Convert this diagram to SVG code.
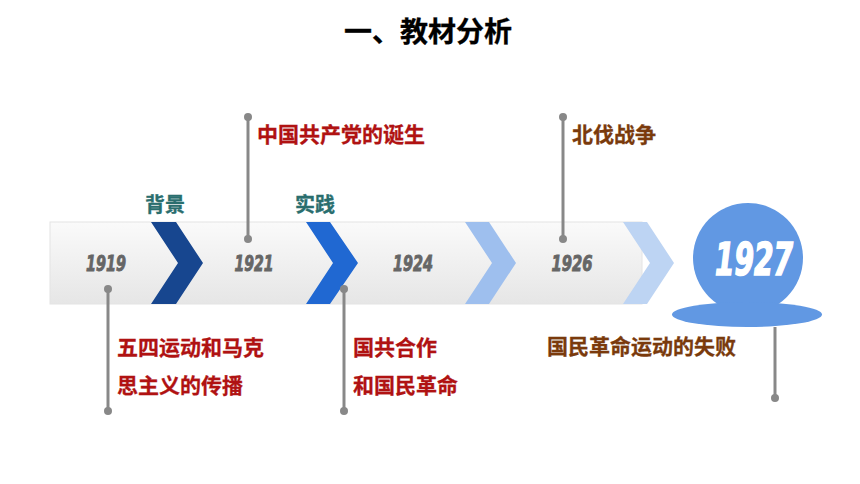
<svg xmlns="http://www.w3.org/2000/svg" width="860" height="484" viewBox="0 0 860 484">
<defs>
<linearGradient id="band" x1="0" y1="0" x2="0" y2="1">
<stop offset="0" stop-color="#FAFAFA"/>
<stop offset="1" stop-color="#E6E6E6"/>
</linearGradient>
<style>
.title{font-family:"Noto Sans CJK SC",sans-serif;font-weight:bold;font-size:28px;fill:#000;stroke:#000;stroke-width:0.3}
.yr{font-family:"DejaVu Sans Condensed","DejaVu Sans",sans-serif;font-weight:bold;font-style:italic;font-size:22px;fill:#666;stroke:#666;stroke-width:0.9;text-anchor:middle}
.stage{font-family:"Noto Sans CJK SC",sans-serif;font-weight:bold;font-size:20px;fill:#2A6E6E;stroke:#2A6E6E;stroke-width:0.3;text-anchor:middle}
.red{font-family:"Noto Sans CJK SC",sans-serif;font-weight:bold;font-size:21px;fill:#B01212;stroke:#B01212;stroke-width:0.3}
.brown{font-family:"Noto Sans CJK SC",sans-serif;font-weight:bold;font-size:21px;fill:#7A3A0C;stroke:#7A3A0C;stroke-width:0.3}
.ln{stroke:#888;stroke-width:3;fill:none}
.dot{fill:#888}
</style>
</defs>
<rect width="860" height="484" fill="#fff"/>
<text class="title" x="428" y="42" text-anchor="middle">一、教材分析</text>
<g id="band-node">
<rect x="50" y="222" width="592" height="82" fill="url(#band)" stroke="#E4E4E4" stroke-width="1"/>
</g>
<g id="chevrons">
<polygon points="151,222 176,222 203,263 176,304 151,304 178,263" fill="#17468F"/>
<polygon points="306,222 330,222 358,263 330,304 306,304 333,263" fill="#2068D2"/>
<polygon points="465,222 489,222 516,263 489,304 465,304 492,263" fill="#9EBFEE"/>
<polygon points="623,222 647,222 674,263 647,304 623,304 650,263" fill="#BDD4F3"/>
</g>
<g id="years">
<text class="yr" x="106" y="271" textLength="40" lengthAdjust="spacingAndGlyphs">1919</text>
<text class="yr" x="254" y="271" textLength="39" lengthAdjust="spacingAndGlyphs">1921</text>
<text class="yr" x="413" y="271" textLength="40" lengthAdjust="spacingAndGlyphs">1924</text>
<text class="yr" x="572" y="271" textLength="41" lengthAdjust="spacingAndGlyphs">1926</text>
</g>
<g id="node-1927">
<circle cx="748" cy="258" r="55" fill="#6198E3"/>
<ellipse cx="747" cy="314.5" rx="75" ry="12.5" fill="#6198E3"/>
<text x="754" y="275" text-anchor="middle" font-family="DejaVu Sans Condensed,DejaVu Sans,sans-serif" font-weight="bold" font-style="italic" font-size="44" fill="#fff" stroke="#fff" stroke-width="1.6" textLength="78" lengthAdjust="spacingAndGlyphs">1927</text>
</g>
<g id="stages">
<text class="stage" x="165" y="212">背景</text>
<text class="stage" x="315" y="212">实践</text>
</g>
<g id="connectors">
<line class="ln" x1="108" y1="289" x2="108" y2="411"/>
<circle class="dot" cx="108" cy="289" r="4"/><circle class="dot" cx="108" cy="411" r="4"/>
<line class="ln" x1="248" y1="117" x2="248" y2="239"/>
<circle class="dot" cx="248" cy="117" r="4"/><circle class="dot" cx="248" cy="239" r="4"/>
<line class="ln" x1="344" y1="289" x2="344" y2="411"/>
<circle class="dot" cx="344" cy="289" r="4"/><circle class="dot" cx="344" cy="411" r="4"/>
<line class="ln" x1="563" y1="117" x2="563" y2="239"/>
<circle class="dot" cx="563" cy="117" r="4"/><circle class="dot" cx="563" cy="239" r="4"/>
<line class="ln" x1="775" y1="327" x2="775" y2="398"/>
<circle class="dot" cx="775" cy="398" r="4"/>
</g>
<g id="labels">
<text class="red" x="257" y="142">中国共产党的诞生</text>
<text class="red" x="117" y="355">五四运动和马克</text>
<text class="red" x="117" y="393">思主义的传播</text>
<text class="red" x="353" y="355">国共合作</text>
<text class="red" x="353" y="393">和国民革命</text>
<text class="brown" x="572" y="142">北伐战争</text>
<text class="brown" x="547" y="354">国民革命运动的失败</text>
</g>
</svg>
